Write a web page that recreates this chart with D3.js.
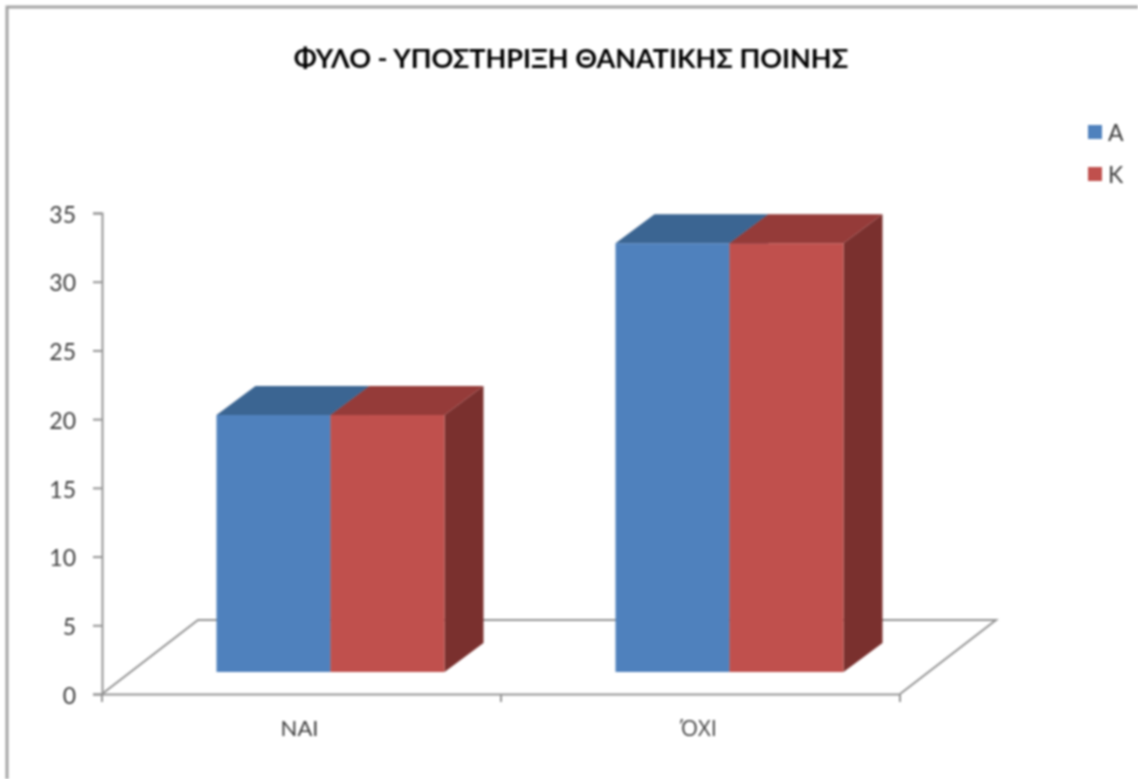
<!DOCTYPE html>
<html>
<head>
<meta charset="utf-8">
<script src="https://cdn.jsdelivr.net/npm/d3@7"></script>
<style>
  body { margin: 0; background: #fff; }
  svg { display: block; filter: blur(0.8px); }
  text { font-family: Lato, "Open Sans", sans-serif; fill: #3c3c3c; }
</style>
</head>
<body>
<div id="chart"></div>
<script>
var categories = ['ΝΑΙ', 'Ό\u03a7Ι'];
var seriesNames = ['Α', 'Κ'];
var valuesA = [20.3, 32.8];
var valuesK = [20.3, 32.8];
var yTicks = [0, 5, 10, 15, 20, 25, 30, 35];
var title = 'ΦΥΛΟ - ΥΠΟΣΤΗΡΙΞΗ ΘΑΝΑΤΙΚΗΣ ΠΟΙΝΗΣ';

var seriesColors = [
  { front: '#4f81bd', top: '#3b6592', side: '#2f5178' },
  { front: '#c0504d', top: '#953b39', side: '#7a302e' }
];

var width = 1138, height = 779;
var margin = { top: 213, right: 238, bottom: 85, left: 102 };

// 3d offsets: floor depth, bar depth, and how far bars sit in from the front edge
var floorDepth = { x: 96, y: -74 };
var barDepth = { x: 39, y: -29 };
var barInset = { x: 29, y: -22 };

var svg = d3.select('#chart').append('svg').attr('width', width).attr('height', height);

// outer chart border, cut off on the right and bottom
svg.append('path')
  .attr('d', 'M7,' + height + 'V7H' + width)
  .attr('fill', 'none').attr('stroke', '#a4a4a4').attr('stroke-width', 3);

var x0 = d3.scaleBand().domain(categories).range([margin.left, width - margin.right]);
var x1 = d3.scaleBand().domain(seriesNames).range([0, 228]);
var y = d3.scaleLinear().domain([0, 35]).range([height - margin.bottom, margin.top]);

// floor
var fl = x0.range()[0], fr = x0.range()[1], fy = y(0);
svg.append('path')
  .attr('d', 'M' + fl + ',' + fy + 'L' + (fl + floorDepth.x) + ',' + (fy + floorDepth.y) +
    'H' + (fr + floorDepth.x) + 'L' + fr + ',' + fy)
  .attr('fill', 'none').attr('stroke', '#939393').attr('stroke-width', 2);

// axes
var yAxis = d3.axisLeft(y).tickValues(yTicks).tickSize(9).tickPadding(17);
var yGuide = svg.append('g').attr('transform', 'translate(' + margin.left + ',0)').call(yAxis);
yGuide.selectAll('text').style('font-size', '23px').attr('dy', '0.4em');

var xAxis = d3.axisBottom(x0).tickSize(0).tickPadding(26);
var xGuide = svg.append('g').attr('transform', 'translate(0,' + fy + ')').call(xAxis);
xGuide.selectAll('text').style('font-size', '22px').attr('dx', -2)
  .style('font-family', function (d, i) { return i === 1 ? '"Open Sans", sans-serif' : null; });

var edges = [fl, fl + x0.step(), fr];
xGuide.selectAll('line.edge').data(edges).enter().append('line')
  .attr('class', 'edge')
  .attr('x1', function (d) { return d; }).attr('x2', function (d) { return d; })
  .attr('y1', 0).attr('y2', 8);

svg.selectAll('.domain, .tick line, line.edge')
  .attr('stroke', '#939393').attr('stroke-width', 2);

// bars
var table = categories.map(function (c, i) {
  return [{ cat: c, s: 0, v: valuesA[i] }, { cat: c, s: 1, v: valuesK[i] }];
});
var bars = d3.merge(table);

function poly(pts) { return pts.map(function (p) { return p.join(','); }).join(' '); }

var groups = svg.append('g').selectAll('g').data(bars).enter().append('g');

groups.each(function (d) {
  var g = d3.select(this);
  var c = seriesColors[d.s];
  var left = x0(d.cat) + x0.bandwidth() / 2 - x1.range()[1] / 2 + barInset.x + x1(seriesNames[d.s]);
  var right = left + x1.bandwidth();
  var top = y(d.v), base = y(0) + barInset.y;

  g.append('polygon').attr('fill', c.side).attr('points', poly([
    [right, top], [right + barDepth.x, top + barDepth.y],
    [right + barDepth.x, base + barDepth.y], [right, base]
  ]));
  g.append('polygon').attr('fill', c.top).attr('points', poly([
    [left, top], [left + barDepth.x, top + barDepth.y],
    [right + barDepth.x, top + barDepth.y], [right, top]
  ]));
  g.append('rect').attr('fill', c.front)
    .attr('x', left).attr('y', top).attr('width', x1.bandwidth()).attr('height', base - top);
});

// title
svg.append('text').attr('x', 571).attr('y', 68)
  .attr('text-anchor', 'middle')
  .style('font-size', '27px').style('font-weight', 700).style('fill', '#000')
  .text(title);

// legend
var legendY = d3.scalePoint().domain(seriesNames).range([132, 174]);
var legend = svg.selectAll('.legend').data(seriesNames).enter().append('g')
  .attr('class', 'legend')
  .attr('transform', function (d) { return 'translate(1088,' + legendY(d) + ')'; });
legend.append('rect').attr('y', -7).attr('width', 14).attr('height', 14)
  .attr('fill', function (d, i) { return seriesColors[i].front; });
legend.append('text').attr('x', 20).attr('y', 9).style('font-size', '23px')
  .text(function (d) { return d; });
</script>
</body>
</html>
